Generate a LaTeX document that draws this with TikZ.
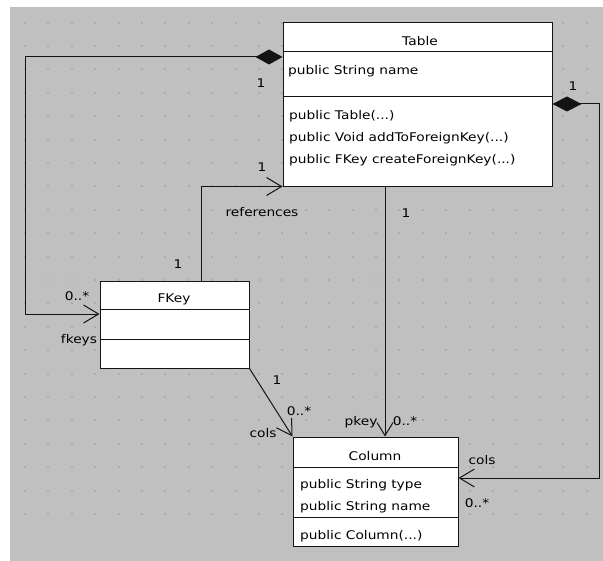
\documentclass[tikz,border=0pt]{standalone}
\usepackage{fontspec}
\setmainfont[FakeStretch=1.15]{DejaVu Sans}
\usetikzlibrary{arrows.meta}
\definecolor{fond}{RGB}{192,192,192}
\definecolor{point}{RGB}{172,172,172}
\definecolor{trait}{RGB}{20,20,20}
\tikzset{
  classe/.style={draw=trait, fill=white, line width=1bp, inner sep=0pt},
  lien/.style={draw=trait, line width=1bp},
  txt/.style={inner sep=0pt, anchor=west},
  etiq/.style={inner sep=0pt},
}
\begin{document}
\begin{tikzpicture}[x=1bp, y=-1bp, font=\fontsize{12}{14}\selectfont]

% Fond gris pointillé
\useasboundingbox (0,0) rectangle (603,561);
\fill[white] (0,0) rectangle (603,561);
\fill[fond] (10,7) rectangle (603,561);
\foreach \i in {0,...,24}
  \foreach \j in {0,...,21}
    \fill[point] (24+23.4*\i, 513-23.4*\j) rectangle ++(2,2);

% Classes
\node[classe, minimum width=269bp, minimum height=163bp] (table) at (417.5,104.5) {};
\node[classe, minimum width=149bp, minimum height=87bp] (fkey) at (174.5,324.5) {};
\node[classe, minimum width=165bp, minimum height=109bp] (column) at (375.5,491.5) {};

% Séparations
\draw[lien] (table.west |- 0,52) -- (table.east |- 0,52);
\draw[lien] (table.west |- 0,97) -- (table.east |- 0,97);
\draw[lien] (fkey.west |- 0,309) -- (fkey.east |- 0,309);
\draw[lien] (fkey.west |- 0,339) -- (fkey.east |- 0,339);
\draw[lien] (column.west |- 0,467) -- (column.east |- 0,467);
\draw[lien] (column.west |- 0,517) -- (column.east |- 0,517);

% Textes des classes
\node[etiq] (t-nom) at (420,41) {Table};
\node[txt] (t-a1) at (288,71) {public String name};
\node[txt] (t-m1) at (289,116) {public Table(...)};
\node[txt] (t-m2) at (289,138) {public Void addToForeignKey(...)};
\node[txt] (t-m3) at (289,160) {public FKey createForeignKey(...)};
\node[etiq] (f-nom) at (174,299) {FKey};
\node[etiq] (c-nom) at (375,456) {Column};
\node[txt] (c-a1) at (300,485) {public String type};
\node[txt] (c-a2) at (300,507) {public String name};
\node[txt] (c-m1) at (300,536) {public Column(...)};

% Liens
\draw[lien, {Diamond[length=27bp,width=15bp]}-{Straight Barb[length=15bp,width=18bp]}]
  (table.west |- 0,57) -| (25,314) -- (fkey.west |- 0,314);
\draw[lien, -{Straight Barb[length=15bp,width=18bp]}]
  (fkey.north -| 201,0) |- (table.south west);
\draw[lien, -{Straight Barb[length=13bp,width=16bp]}]
  (table.south -| 385,0) -- (column.north -| 385,0);
\draw[lien, -{Straight Barb[length=15bp,width=18bp]}]
  (fkey.south east) -- (column.north west);
\draw[lien, {Diamond[length=29bp,width=15bp]}-{Straight Barb[length=15bp,width=18bp]}]
  (table.east |- 0,104) -| (599,478) -- (column.east |- 0,478);

% Multiplicités et rôles
\node[etiq] (m1) at (261,83) {1};
\node[etiq] (m2) at (77,296) {0..*};
\node[etiq] (r1) at (79,340) {fkeys};
\node[etiq] (m3) at (262,167) {1};
\node[etiq] (r2) at (262,212) {references};
\node[etiq] (m4) at (178,264) {1};
\node[etiq] (m5) at (406,213) {1};
\node[etiq] (r3) at (361,422) {pkey};
\node[etiq] (m6) at (405,421) {0..*};
\node[etiq] (m7) at (277,380) {1};
\node[etiq] (m8) at (299,411) {0..*};
\node[etiq] (r4) at (263,433) {cols};
\node[etiq] (m9) at (573,86) {1};
\node[etiq] (r5) at (482,460) {cols};
\node[etiq] (m10) at (477,503) {0..*};

\end{tikzpicture}
\end{document}
